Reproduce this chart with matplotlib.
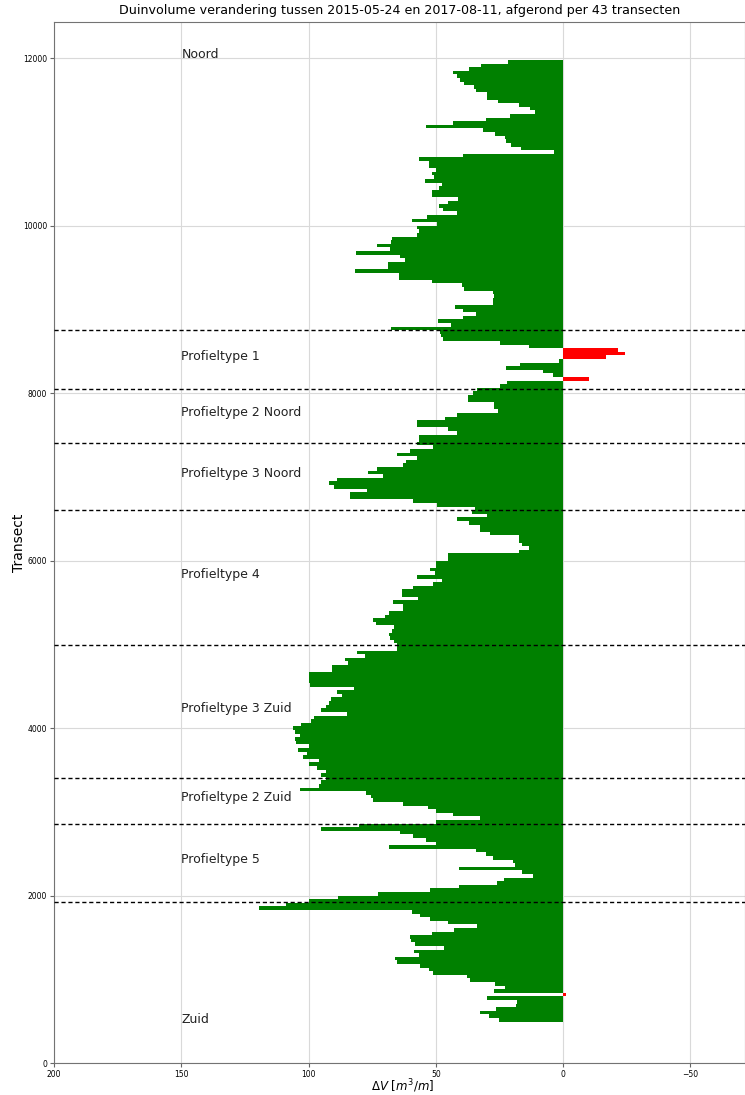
import matplotlib.pyplot as plt
import numpy as np

# duinvolume verandering (m3/m) per 43 transecten, van noord (11954) naar zuid (516)
dv = [21.7, 32.3, 37, 43.3, 41.6, 40.3, 39, 35, 34.3, 30,
      30, 25.7, 17.2, 13, 11.2, 20.9, 30.3, 43.3, 53.8, 31.3,
      26.8, 22.9, 22.5, 20.5, 16.6, 3.4, 39.4, 56.4, 52.7, 52.5,
      49.9, 51.5, 50.8, 54.2, 47.7, 48.6, 51.5, 51.6, 41.1, 45,
      48.9, 47.2, 41.7, 53.5, 59.4, 49.6, 57.5, 56.7, 57.5, 67.2,
      67.4, 72.9, 68, 81.3, 64, 62, 68.6, 68.6, 81.7, 64.6,
      64.6, 51.6, 39.8, 38.9, 27.4, 27.1, 27.6, 27.6, 42.4, 39.2,
      34, 39.2, 49, 44, 67.7, 48.3, 48, 47, 24.7, 13.2,
      -21.5, -24.4, -16.9, 1.4, 17, 22.6, 8, 3.8, -10.2, 21.9,
      24.7, 33.9, 35.5, 37.5, 37.5, 27.1, 27.1, 25.5, 41.7, 46.3,
      57.5, 57.5, 45, 41.7, 56.7, 56.7, 57.2, 51, 60.2, 65.3,
      57.5, 61.7, 63, 73.2, 76.5, 70.6, 88.9, 92, 89.9, 77.1,
      83.6, 83.6, 59.1, 49.6, 34.6, 35.9, 30, 41.5, 36.8, 32.8,
      32.6, 28.7, 17.4, 17.4, 16, 13.2, 17.2, 45, 45, 50,
      50, 52.4, 50.3, 57.5, 47.4, 51, 58.9, 63.3, 63.3, 56.8,
      66.9, 62.7, 62.7, 68.2, 69.9, 74.8, 73.5, 66.4, 67.3, 68.2,
      67.9, 66.4, 65.4, 65.4, 81.1, 77.8, 85.7, 84.4, 90.9, 90.9,
      99.7, 99.7, 99.7, 99.3, 82.3, 88.8, 87, 91, 92, 93.3,
      95, 85, 97.8, 99, 103, 106.2, 105.2, 103.3, 105.2, 104.8,
      100, 104, 100.5, 102.2, 96, 100, 96.5, 93, 95, 93,
      95, 95.8, 103.5, 77.4, 75.4, 74.7, 62.9, 53, 50, 43.2,
      32.6, 50, 80, 95.1, 64.2, 58.9, 53.7, 50, 68.2, 34,
      30.3, 27.4, 19.5, 18.8, 41, 16.2, 11.8, 23, 26, 41,
      52.3, 72.6, 88.3, 100, 108.8, 119.5, 59.4, 56.1, 52.2, 45.3,
      33.8, 43, 51.5, 60.3, 59.8, 58, 46.9, 58.7, 56.4, 66.2,
      65.3, 56.1, 52.8, 50.9, 37.7, 36.4, 26.6, 22.7, 27.3, -1,
      30, 18, 18.5, 26.5, 32.5, 29.2, 25]
# afgerond per 43 transecten
transect = np.arange(11954, 515, -43)

# grenzen tussen de profieltypes
grenzen = [8750, 8048, 7403, 6603, 4991, 3403, 2858, 1928]
labels = ['Noord', 'Profieltype 1', 'Profieltype 2 Noord', 'Profieltype 3 Noord',
          'Profieltype 4', 'Profieltype 3 Zuid', 'Profieltype 2 Zuid',
          'Profieltype 5', 'Zuid']

dv = np.array(dv)
kleur = np.where(dv < 0, 'red', 'green')

fig = plt.figure(figsize=(7.45, 10.95), dpi=100)
ax = fig.add_axes([0.0725, 0.0292, 0.9275, 0.9507])
ax.barh(transect, dv, height=43, color=kleur, linewidth=0, zorder=2)

for g in grenzen:
    ax.axhline(g, color='black', linestyle=(0, (3, 2)), linewidth=1, zorder=3)

# label in het midden van elk vak
for i, lab in enumerate(labels):
    if i == 0:
        y = 12000
    elif i == len(labels) - 1:
        y = 480
    else:
        y = (grenzen[i - 1] + grenzen[i]) / 2
    ax.text(150, y, lab, fontsize=9, color='#222222')

ax.set_xlim(200, -71.5)
ax.set_ylim(0, 12430)
ax.set_xticks([200, 150, 100, 50, 0, -50])
ax.set_yticks(np.arange(0, 12001, 2000))
ax.tick_params(labelsize=5.5, length=3, color='0.4', pad=2)
ax.grid(True, color='#d9d9d9', linewidth=0.8, zorder=0)
ax.set_axisbelow(True)
for s in ax.spines.values():
    s.set_color('0.45')

ax.set_title('Duinvolume verandering tussen 2015-05-24 en 2017-08-11, afgerond per 43 transecten',
             fontsize=9.1, pad=6)
ax.set_xlabel(r'$\Delta V\ [m^3/m]$', fontsize=8.5)
ax.xaxis.set_label_coords(0.505, -0.0135)
ax.set_ylabel('Transect', fontsize=10)
ax.yaxis.set_label_coords(-0.041, 0.5)

plt.savefig('out.png')
